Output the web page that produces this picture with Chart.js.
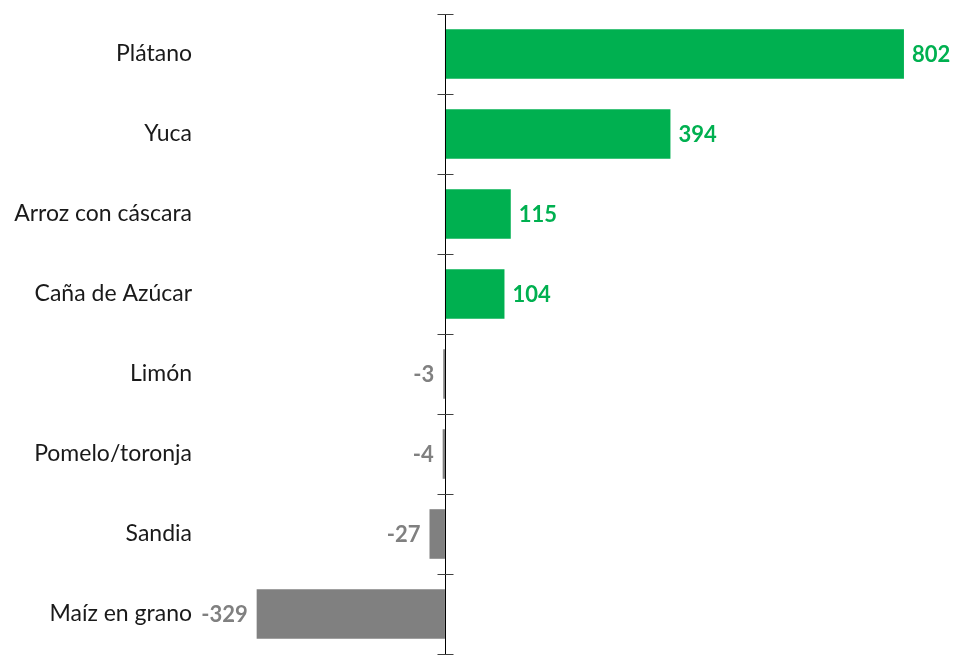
<!DOCTYPE html>
<html>
<head>
<meta charset="utf-8">
<script src="https://cdn.jsdelivr.net/npm/chart.js@4"></script>
<style>
  html, body { margin: 0; padding: 0; background: #fff; overflow: hidden; }
  #wrap { width: 954px; height: 655px; }
</style>
</head>
<body>
<div id="wrap"><canvas id="chart"></canvas></div>
<script>
// Crop variation (positive = green, negative = gray)
const cultivos = ['Plátano', 'Yuca', 'Arroz con cáscara', 'Caña de Azúcar', 'Limón', 'Pomelo/toronja', 'Sandia', 'Maíz en grano'];
const variacion = [802, 394, 115, 104, -3, -4, -27, -329];

const GREEN = '#00b050';
const GRAY = '#808080';

// zero axis line with cross tick marks between categories
const zeroAxis = {
    id: 'zeroAxis',
    afterDatasetsDraw(chart) {
        const { ctx, scales: { x, y }, chartArea } = chart;
        const x0 = Math.round(x.getPixelForValue(0)) + 0.5;
        ctx.save();
        ctx.strokeStyle = '#000';
        ctx.lineWidth = 1;
        ctx.beginPath();
        ctx.moveTo(x0, chartArea.top);
        ctx.lineTo(x0, chartArea.bottom + 2);
        ctx.stroke();
        ctx.strokeStyle = '#404040';
        for (let i = 0; i <= cultivos.length; i++) {
            const py = Math.round(y.getPixelForValue(i - 0.5)) + 0.5;
            ctx.beginPath();
            ctx.moveTo(x0 - 8, py);
            ctx.lineTo(x0 + 8, py);
            ctx.stroke();
        }
        ctx.restore();
    }
};

// value labels at bar ends
const valueLabels = {
    id: 'valueLabels',
    afterDatasetsDraw(chart) {
        const { ctx } = chart;
        const meta = chart.getDatasetMeta(0);
        ctx.save();
        ctx.font = 'bold 22px Lato, sans-serif';
        ctx.textBaseline = 'middle';
        meta.data.forEach((bar, i) => {
            const v = variacion[i];
            if (v >= 0) {
                ctx.fillStyle = GREEN;
                ctx.textAlign = 'left';
                ctx.fillText(v, bar.x + 8, bar.y + 1);
            } else {
                ctx.fillStyle = GRAY;
                ctx.textAlign = 'right';
                ctx.fillText(v, bar.x - 9, bar.y + 1);
            }
        });
        ctx.restore();
    }
};

new Chart(document.getElementById('chart'), {
    type: 'bar',
    data: {
        labels: cultivos,
        datasets: [{
            data: variacion,
            backgroundColor: variacion.map(v => v >= 0 ? GREEN : GRAY),
            borderWidth: 0,
            barPercentage: 0.62,
            categoryPercentage: 1.0
        }]
    },
    options: {
        indexAxis: 'y',
        responsive: true,
        maintainAspectRatio: false,
        animation: false,
        layout: { padding: { top: 14, bottom: 1, right: 14, left: 0 } },
        plugins: {
            legend: { display: false },
            tooltip: { enabled: false }
        },
        scales: {
            x: {
                display: false,
                min: -428,
                max: 865
            },
            y: {
                grid: { display: false, drawTicks: false },
                border: { display: false },
                ticks: {
                    color: '#1a1a1a',
                    padding: 8,
                    font: { family: 'Lato, sans-serif', size: 23 }
                },
                afterFit(scale) {
                    scale.width = 200;
                    scale.paddingTop = 0;
                    scale.paddingBottom = 0;
                }
            }
        }
    },
    plugins: [zeroAxis, valueLabels]
});
</script>
</body>
</html>
